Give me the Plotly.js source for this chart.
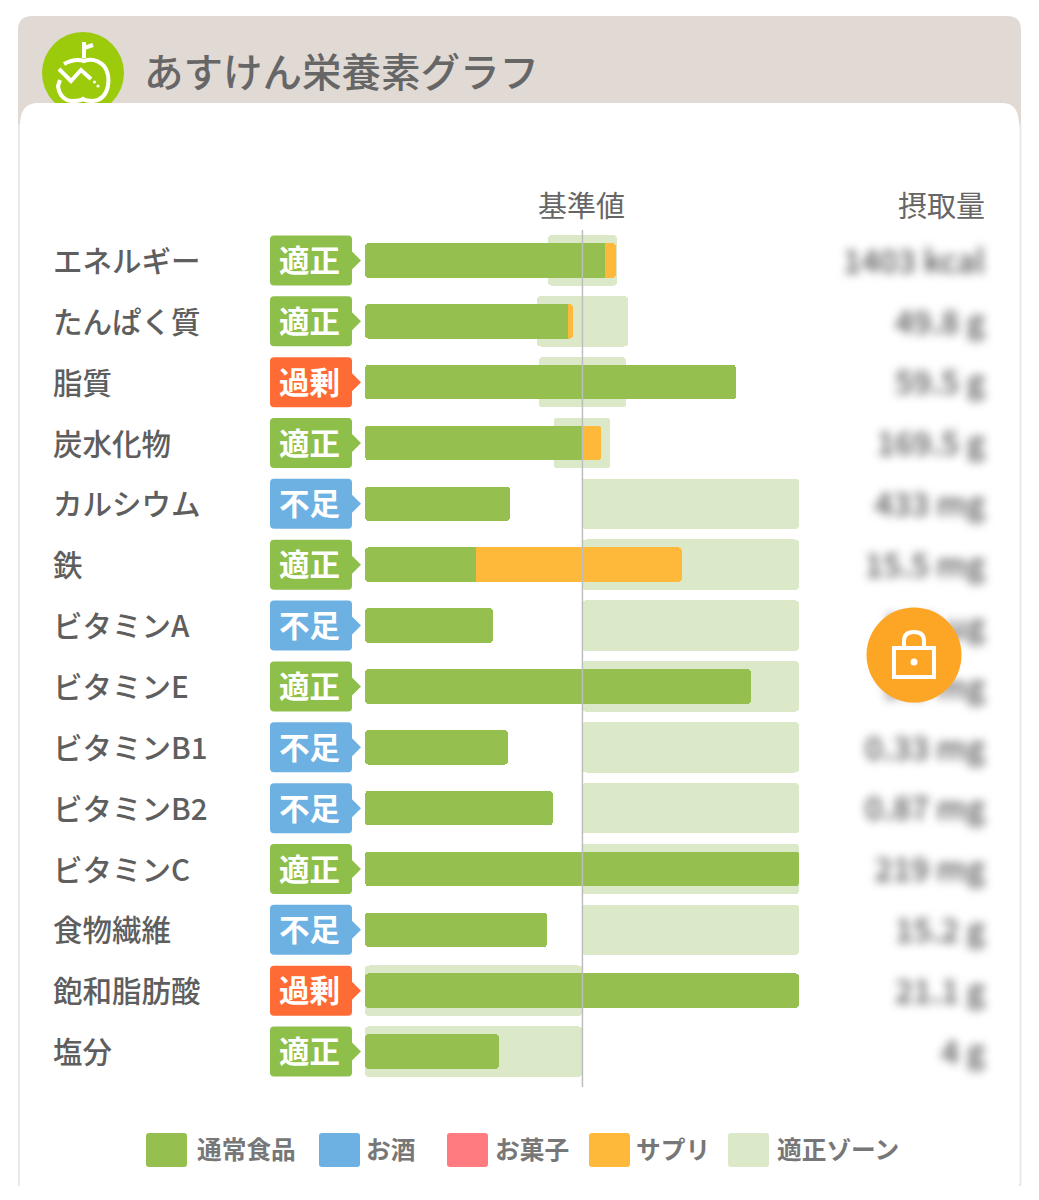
<!DOCTYPE html>
<html><head><meta charset="utf-8">
<script src="https://cdn.plot.ly/plotly-3.0.1.min.js"></script>
<style>
html,body{margin:0;padding:0;background:#fff}
.scatterlayer .textpoint{filter:blur(5px)}
</style></head>
<body><div id="chart" style="width:1039px;height:1200px"></div>
<script>
const nutrients=["エネルギー","たんぱく質","脂質","炭水化物","カルシウム","鉄","ビタミンA","ビタミンE","ビタミンB1","ビタミンB2","ビタミンC","食物繊維","飽和脂肪酸","塩分"];
const statuses=["適正","適正","過剰","適正","不足","適正","不足","適正","不足","不足","適正","不足","過剰","適正"];
const foodPct=[110.6,93.5,171,100.5,66.8,51.2,59,177.9,65.9,86.6,200,83.9,200,61.8];
const supplementPct=[5,2.4,0,8.3,0,94.8,0,0,0,0,0,0,0,0];
const zoneStart=[84.3,79.3,80.2,87,100,100,100,100,100,100,100,100,0,0];
const zoneEnd=[116.1,121.2,120.3,113,200,200,200,200,200,200,200,200,100,100];
const intake=["1403 kcal","49.8 g","59.5 g","169.5 g","433 mg","15.5 mg","328 µg","9.9 mg","0.33 mg","0.87 mg","219 mg","15.2 g","21.1 g","4 g"];
const legendNames=["通常食品","お酒","お菓子","サプリ","適正ゾーン"];
const legendColors=["#95BF4E","#6DB1E2","#FF7B7F","#FFB93A","#DCE9C8"];
const statusColors={"適正":"#8FBF4B","不足":"#6DB1E2","過剰":"#FF6B35"};

const FONT='"Noto Sans CJK JP","Noto Sans",sans-serif';
const W=1039,H=1200,L=365,R=1000,T=230,B=1082;
const X=p=>(p-L)/(R-L), Y=p=>1-(p-T)/(B-T);
const P=s=>s.replace(/(-?[\d.]+),(-?[\d.]+)/g,(m,a,b)=>X(+a)+','+Y(+b));
const pshape=(path,o)=>Object.assign({type:'path',xref:'paper',yref:'paper',path:P(path),line:{width:0}},o);
const circ=(cx,cy,r,o)=>Object.assign({type:'circle',xref:'paper',yref:'paper',x0:X(cx-r),x1:X(cx+r),y0:Y(cy+r),y1:Y(cy-r),line:{width:0}},o);
const rows=nutrients.map((_,i)=>i);

const shapes=[];
shapes.push(pshape("M18,135 L18,30 Q18,16 32,16 L1007,16 Q1021,16 1021,30 L1021,135 Z",{fillcolor:"#E1D9D4",layer:'below'}));
shapes.push(circ(83,73,41,{fillcolor:"#9CCB0C",layer:'below'}));
const wl={color:"#fff",width:4};
shapes.push(pshape("M60,80 L58,86 Q60,100 72,101 Q80,101 83,99 Q86,101 93,101 Q105,100 108,86 Q110,74 104,66 Q95,57 84,61 Q75,58 64,64",{line:wl,layer:'below'}));
shapes.push(pshape("M59,69 L71,81 L81,70 L91,79",{line:wl,layer:'below'}));
shapes.push(pshape("M84,42 L84,58 M84,48 L93,45",{line:wl,layer:'below'}));
shapes.push(circ(94.5,82,1.6,{fillcolor:"#fff",layer:'below'}));
shapes.push(circ(98,86,1.6,{fillcolor:"#fff",layer:'below'}));
shapes.push(pshape("M19,1185 L19,125 L1020.5,125 L1020.5,1185 Z",{fillcolor:"#fff",line:{color:"#E9E9E9",width:2},layer:'below'}));
shapes.push(pshape("M20,1192 L20,125 Q20,103 38,103 L1002,103 Q1019,103 1019,125 L1019,1192 Z",{fillcolor:"#fff",layer:'below'}));
rows.forEach(i=>{
  shapes.push({type:'path',layer:'above',xref:'paper',yref:'y',xanchor:0,yanchor:i,xsizemode:'pixel',ysizemode:'pixel',
    path:"M-91,25 L-17,25 Q-13,25 -13,21 L-13,9 L-4,0 L-13,-9 L-13,-21 Q-13,-25 -17,-25 L-91,-25 Q-95,-25 -95,-21 L-95,21 Q-95,25 -91,25 Z",
    fillcolor:statusColors[statuses[i]],line:{width:0}});
});
shapes.push({type:'line',layer:'above',xref:'x',yref:'paper',x0:100.2,x1:100.2,y0:Y(1087),y1:Y(230),line:{color:"#BDBDBD",width:1.5}});
shapes.push(circ(914,655,47.5,{fillcolor:"#FDA625",layer:'above'}));
const ll={color:"#fff",width:4};
shapes.push(pshape("M894,648 L934,648 L934,677 L894,677 Z",{line:ll,layer:'above'}));
shapes.push(pshape("M904,647 L904,641 Q904,632 914,632 Q924,632 924,641 L924,647",{line:ll,layer:'above'}));
shapes.push(circ(914,662,3.5,{fillcolor:"#fff",layer:'above'}));
const swatchX=[146,319,447,589,728], legendTextX=[195,364,493,634,775];
legendNames.forEach((n,i)=>{
  const a=swatchX[i], b=a+41;
  shapes.push(pshape(`M${a+3},1133 L${b-3},1133 Q${b},1133 ${b},1136 L${b},1164 Q${b},1167 ${b-3},1167 L${a+3},1167 Q${a},1167 ${a},1164 L${a},1136 Q${a},1133 ${a+3},1133 Z`,{fillcolor:legendColors[i],layer:'below'}));
});

const annotations=[];
rows.forEach(i=>{
  annotations.push({xref:'paper',yref:'y',x:X(51),y:i,yshift:1.5,xanchor:'left',yanchor:'middle',showarrow:false,text:nutrients[i],font:{family:FONT,size:29.5,color:"#5E5E5E",weight:500}});
  annotations.push({xref:'paper',yref:'y',x:X(309.5),y:i,yshift:1.5,xanchor:'center',yanchor:'middle',showarrow:false,text:statuses[i],font:{family:FONT,size:30.5,color:"#fff",weight:700}});
});
annotations.push({xref:'paper',yref:'paper',x:X(581),y:Y(204),xanchor:'center',yanchor:'middle',showarrow:false,text:"基準値",font:{family:FONT,size:29,color:"#666"}});
annotations.push({xref:'paper',yref:'paper',x:X(986.5),y:Y(204),xanchor:'right',yanchor:'middle',showarrow:false,text:"摂取量",font:{family:FONT,size:29,color:"#666"}});
legendNames.forEach((n,i)=>annotations.push({xref:'paper',yref:'paper',x:X(legendTextX[i]),y:Y(1148),xanchor:'left',yanchor:'middle',showarrow:false,text:n,font:{family:FONT,size:24.7,color:"#777",weight:700}}));

// A bar with a base gets both ends rounded; the stacked body starts just after a small rounded start cap.
const capEnd=4, capMid=1.85;
const valuePos=(985-L)/2.17;
const hbar=(name,x,width,color,yaxis,base)=>{const t={type:'bar',orientation:'h',name,y:rows,x,width,marker:{color},xaxis:'x',yaxis,hoverinfo:'skip'}; if(base) t.base=base; return t;};
const traces=[
 hbar(legendNames[4],zoneEnd.map((e,i)=>e-zoneStart[i]),0.83,legendColors[4],'y',zoneStart),
 hbar(legendNames[0],rows.map(()=>capEnd),0.57,legendColors[0],'y2',rows.map(()=>0)),
 hbar('',rows.map(()=>capMid),0.57,'rgba(0,0,0,0)','y3'),
 hbar(legendNames[0],foodPct.map(v=>v-capMid),0.57,legendColors[0],'y3'),
 hbar(legendNames[3],supplementPct,0.57,legendColors[3],'y3'),
 {type:'scatter',mode:'text',name:'摂取量',y:rows.map(i=>i+0.07),x:rows.map(()=>valuePos),text:intake,textposition:'middle left',cliponaxis:false,textfont:{family:FONT,size:32,color:"#555",weight:500},xaxis:'x',yaxis:'y3',hoverinfo:'skip'}
];
const yr=[13.5,-0.5];
const layout={
 width:W,height:H,autosize:false,showlegend:false,
 margin:{l:L,r:W-R,t:T,b:H-B,pad:0},
 paper_bgcolor:"#fff",plot_bgcolor:"rgba(0,0,0,0)",
 barmode:'stack',barcornerradius:4,
 title:{text:"あすけん栄養素グラフ",xref:'container',yref:'container',x:144/W,y:1-73/H,xanchor:'left',yanchor:'middle',font:{family:FONT,size:39.5,color:"#666",weight:500}},
 xaxis:{range:[0,(R-L)/2.17],visible:false,fixedrange:true},
 yaxis:{range:yr,visible:false,fixedrange:true},
 yaxis2:{range:yr,visible:false,overlaying:'y',fixedrange:true},
 yaxis3:{range:yr,visible:false,overlaying:'y',fixedrange:true},
 shapes,annotations
};
Plotly.newPlot('chart',traces,layout,{displayModeBar:false,responsive:false});
</script></body></html>
